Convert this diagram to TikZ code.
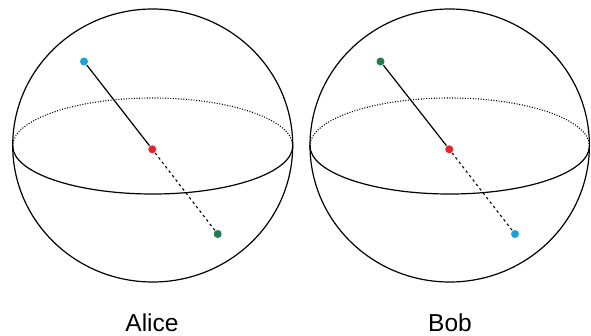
\documentclass[tikz,border=0pt]{standalone}
\usepackage{fontspec}
\setmainfont{Liberation Sans}
\usepackage{tikz}
\usetikzlibrary{positioning}
\definecolor{Up}{HTML}{1AA0DC}
\definecolor{Mid}{HTML}{E3242B}
\definecolor{Down}{HTML}{1F7D4C}

\begin{document}
\begin{tikzpicture}[x=1pt,y=-1pt,line width=1.2pt,
  dot/.style={circle,inner sep=0pt,minimum size=8pt},
  far/.style={dash pattern=on 1pt off 1.6pt,line width=1.1pt},
  back/.style={dash pattern=on 2.6pt off 3pt,line width=1.1pt}]
  \useasboundingbox (0,0) rectangle (591,335);
  % left sphere
  \draw (152.7,145.5) ellipse (140 and 136.5);
  \draw[far] (12.7,146) arc (180:360:140 and 48);
  \draw (12.7,146) arc (180:0:140 and 48);
  \node[dot,fill=Up] (a1) at (84,61.5) {};
  \node[dot,fill=Mid] (a0) at (152.3,149.3) {};
  \node[dot,fill=Down] (a2) at (217.7,234) {};
  \draw (a1)--(a0); \draw[back] (a0)--(a2);
  % right sphere
  \draw (449.7,145.5) ellipse (139.7 and 136.5);
  \draw[far] (310,146) arc (180:360:139.7 and 48);
  \draw (310,146) arc (180:0:139.7 and 48);
  \node[dot,fill=Down] (b1) at (380.5,61.5) {};
  \node[dot,fill=Mid] (b0) at (449.3,149.3) {};
  \node[dot,fill=Up] (b2) at (515,234) {};
  \draw (b1)--(b0); \draw[back] (b0)--(b2);
  % names
  \node[anchor=base,font=\fontsize{24.5}{28}\selectfont] (alice) at (152,331) {Alice};
  \node[anchor=base,font=\fontsize{24.5}{28}\selectfont] (bob) at (450,331) {Bob};
\end{tikzpicture}
\end{document}
